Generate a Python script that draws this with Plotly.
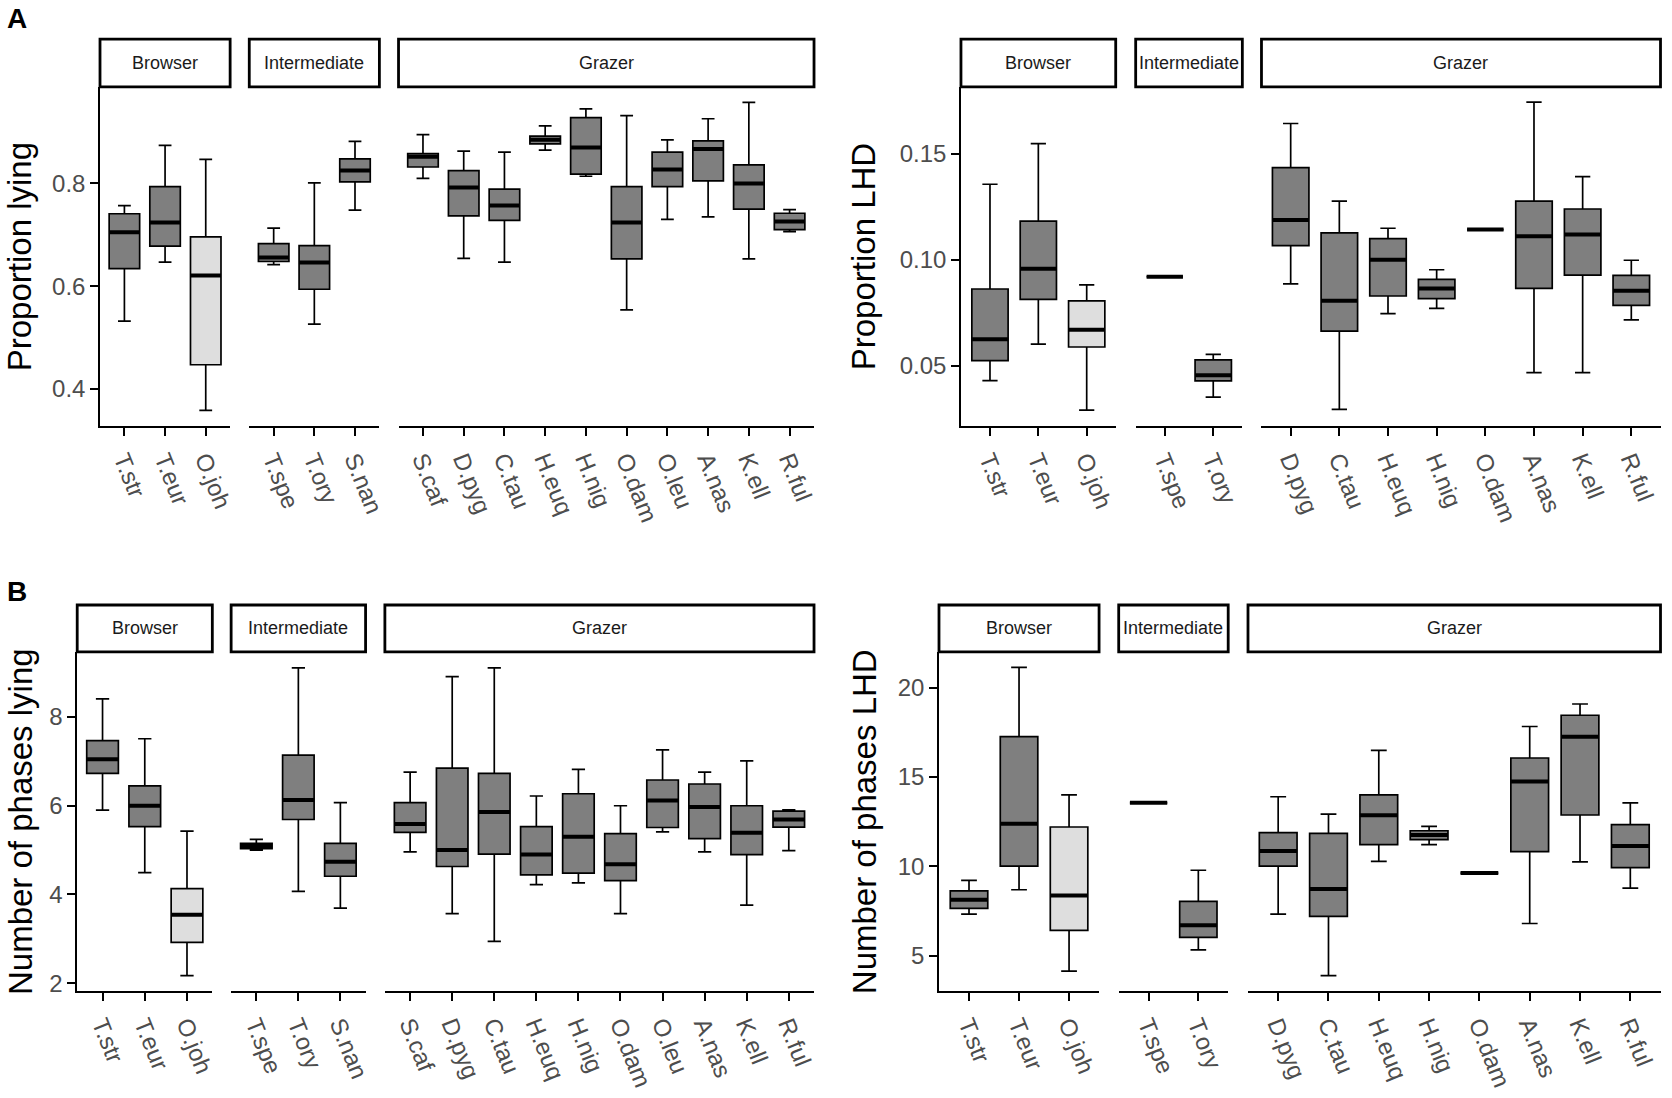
import plotly.graph_objects as go

# feeding groups and species, in plot order
groups = ["Browser", "Intermediate", "Grazer"]
sp_lying = [["T.str", "T.eur", "O.joh"],
            ["T.spe", "T.ory", "S.nan"],
            ["S.caf", "D.pyg", "C.tau", "H.euq", "H.nig", "O.dam", "O.leu", "A.nas", "K.ell", "R.ful"]]
sp_lhd = [["T.str", "T.eur", "O.joh"],
          ["T.spe", "T.ory"],
          ["D.pyg", "C.tau", "H.euq", "H.nig", "O.dam", "A.nas", "K.ell", "R.ful"]]
light_species = ["O.joh"]

# box stats, one row per species: lower whisker, q1, median, q3, upper whisker
prop_lying = [
    [0.532, 0.634, 0.705, 0.741, 0.757],
    [0.647, 0.678, 0.724, 0.794, 0.874],
    [0.358, 0.447, 0.621, 0.696, 0.847],
    [0.642, 0.648, 0.656, 0.683, 0.713],
    [0.526, 0.594, 0.646, 0.679, 0.801],
    [0.748, 0.803, 0.825, 0.848, 0.882],
    [0.810, 0.832, 0.852, 0.858, 0.895],
    [0.654, 0.737, 0.792, 0.825, 0.863],
    [0.647, 0.728, 0.757, 0.789, 0.861],
    [0.865, 0.877, 0.885, 0.892, 0.912],
    [0.814, 0.818, 0.870, 0.928, 0.945],
    [0.554, 0.653, 0.724, 0.794, 0.932],
    [0.730, 0.794, 0.827, 0.861, 0.885],
    [0.735, 0.805, 0.867, 0.883, 0.926],
    [0.653, 0.750, 0.800, 0.836, 0.958],
    [0.706, 0.710, 0.726, 0.742, 0.749],
]
prop_lhd = [
    [0.0429, 0.0524, 0.0625, 0.0862, 0.1357],
    [0.0602, 0.0813, 0.0958, 0.1183, 0.1549],
    [0.0290, 0.0588, 0.0669, 0.0806, 0.0882],
    [0.0920, 0.0920, 0.0920, 0.0920, 0.0920],
    [0.0351, 0.0428, 0.0455, 0.0527, 0.0553],
    [0.0886, 0.1067, 0.1188, 0.1436, 0.1644],
    [0.0293, 0.0663, 0.0806, 0.1127, 0.1277],
    [0.0746, 0.0829, 0.1000, 0.1100, 0.1149],
    [0.0771, 0.0817, 0.0864, 0.0908, 0.0953],
    [0.1143, 0.1143, 0.1143, 0.1143, 0.1143],
    [0.0467, 0.0865, 0.1111, 0.1277, 0.1745],
    [0.0467, 0.0928, 0.1119, 0.1240, 0.1393],
    [0.0716, 0.0785, 0.0854, 0.0926, 0.0998],
]
phases_lying = [
    [5.90, 6.73, 7.05, 7.47, 8.41],
    [4.49, 5.53, 6.00, 6.45, 7.51],
    [2.17, 2.92, 3.54, 4.13, 5.43],
    [5.00, 5.03, 5.09, 5.15, 5.24],
    [4.07, 5.69, 6.13, 7.14, 9.11],
    [3.69, 4.41, 4.74, 5.15, 6.07],
    [4.96, 5.40, 5.59, 6.07, 6.76],
    [3.57, 4.63, 5.00, 6.85, 8.91],
    [2.94, 4.91, 5.86, 6.73, 9.11],
    [4.22, 4.44, 4.90, 5.53, 6.22],
    [4.26, 4.48, 5.30, 6.27, 6.82],
    [3.57, 4.31, 4.68, 5.37, 6.00],
    [5.41, 5.51, 6.12, 6.58, 7.26],
    [4.96, 5.26, 5.97, 6.49, 6.76],
    [3.76, 4.90, 5.39, 6.00, 7.01],
    [4.99, 5.52, 5.69, 5.88, 5.91],
]
phases_lhd = [
    [7.33, 7.65, 8.13, 8.63, 9.21],
    [8.69, 10.01, 12.38, 17.25, 21.13],
    [4.14, 6.42, 8.37, 12.20, 14.00],
    [13.55, 13.55, 13.55, 13.55, 13.55],
    [5.33, 6.03, 6.70, 8.04, 9.78],
    [7.33, 10.01, 10.86, 11.88, 13.89],
    [3.88, 7.20, 8.73, 11.84, 12.92],
    [10.28, 11.21, 12.85, 14.00, 16.49],
    [11.21, 11.49, 11.75, 11.99, 12.23],
    [9.62, 9.62, 9.62, 9.62, 9.62],
    [6.80, 10.82, 14.74, 16.06, 17.82],
    [10.25, 12.87, 17.25, 18.45, 19.08],
    [8.78, 9.93, 11.14, 12.33, 13.55],
]

# layout of the four panels (paper coords)
panels = [
    dict(species=sp_lying, stats=prop_lying, title="Proportion lying",
         yrange=[0.327, 0.988], yticks=[0.4, 0.6, 0.8], fmt=".1f",
         xdom=[[0.0601, 0.1383], [0.1498, 0.2280], [0.2395, 0.4892]],
         ydom=[0.6099, 0.9205], strip=[0.9205, 0.9642], title_x=0.0118),
    dict(species=sp_lhd, stats=prop_lhd, title="Proportion LHD",
         yrange=[0.0213, 0.1817], yticks=[0.05, 0.10, 0.15], fmt=".2f",
         xdom=[[0.5775, 0.6705], [0.6825, 0.7466], [0.7581, 0.9979]],
         ydom=[0.6099, 0.9205], strip=[0.9205, 0.9642], title_x=0.5190),
    dict(species=sp_lying, stats=phases_lying, title="Number of phases lying",
         yrange=[1.813, 9.467], yticks=[2, 4, 6, 8], fmt="d",
         xdom=[[0.0464, 0.1276], [0.1389, 0.2197], [0.2313, 0.4892]],
         ydom=[0.0929, 0.4035], strip=[0.4035, 0.4465], title_x=0.0122),
    dict(species=sp_lhd, stats=phases_lhd, title="Number of phases LHD",
         yrange=[3.0, 21.99], yticks=[5, 10, 15, 20], fmt="d",
         xdom=[[0.5643, 0.6605], [0.6723, 0.7381], [0.7500, 0.9979]],
         ydom=[0.0929, 0.4035], strip=[0.4035, 0.4465], title_x=0.5195),
]

BOX_W = 0.75
DARK = "#7f7f7f"
LIGHT = "#dedede"
TICK_FONT = dict(family="Liberation Sans, Arial", size=24, color="#4d4d4d")

fig = go.Figure()
layout = {}
shapes = []
annotations = []

for p, pan in enumerate(panels):
    ykey = "y" if p == 0 else f"y{p + 1}"
    row = 0
    for f, names in enumerate(pan["species"]):
        k = p * 3 + f + 1
        xkey = "x" if k == 1 else f"x{k}"
        for i, name in enumerate(names):
            lo, q1, med, q3, hi = pan["stats"][row]
            row += 1
            fig.add_trace(go.Box(
                x=[i], q1=[q1], median=[med], q3=[q3],
                lowerfence=[lo], upperfence=[hi],
                width=BOX_W, whiskerwidth=0.42, boxpoints=False,
                fillcolor=LIGHT if name in light_species else DARK,
                line=dict(color="black", width=1.7),
                name=name, showlegend=False,
                xaxis=xkey, yaxis=ykey,
            ))
            # thick median bar like ggplot
            fig.add_trace(go.Scatter(
                x=[i - BOX_W / 2, i + BOX_W / 2], y=[med, med], mode="lines",
                line=dict(color="black", width=4), hoverinfo="skip",
                showlegend=False, xaxis=xkey, yaxis=ykey,
            ))
        layout["xaxis" if k == 1 else f"xaxis{k}"] = dict(
            domain=pan["xdom"][f], anchor=ykey,
            range=[-0.6, len(names) - 0.4],
            tickmode="array", tickvals=list(range(len(names))), ticktext=names,
            tickangle=68, tickfont=TICK_FONT,
            showline=True, linecolor="black", linewidth=1.6,
            ticks="outside", ticklen=8, tickwidth=1.6, tickcolor="black",
            showgrid=False, zeroline=False, fixedrange=True,
        )
        # facet strip
        x0, x1 = pan["xdom"][f]
        shapes.append(dict(type="rect", xref="paper", yref="paper",
                           x0=x0, x1=x1, y0=pan["strip"][0], y1=pan["strip"][1],
                           line=dict(color="black", width=2.8), fillcolor="white"))
        annotations.append(dict(text=groups[f], xref="paper", yref="paper",
                                x=(x0 + x1) / 2, y=(pan["strip"][0] + pan["strip"][1]) / 2,
                                showarrow=False, xanchor="center", yanchor="middle",
                                font=dict(family="Liberation Sans, Arial", size=18, color="#1a1a1a")))
    layout["yaxis" if p == 0 else f"yaxis{p + 1}"] = dict(
        domain=pan["ydom"], anchor="x" if p == 0 else f"x{p * 3 + 1}",
        range=pan["yrange"], tickmode="array", tickvals=pan["yticks"],
        tickformat=pan["fmt"], tickfont=TICK_FONT,
        showline=True, linecolor="black", linewidth=1.6,
        ticks="outside", ticklen=8, tickwidth=1.6, tickcolor="black",
        showgrid=False, zeroline=False, fixedrange=True,
    )
    annotations.append(dict(text=pan["title"], xref="paper", yref="paper",
                            x=pan["title_x"], y=sum(pan["ydom"]) / 2,
                            textangle=-90, showarrow=False,
                            xanchor="center", yanchor="middle",
                            font=dict(family="Liberation Sans, Arial", size=33, color="black")))

# panel letters
letter_font = dict(family="Liberation Sans, Arial", size=28, color="black")
annotations.append(dict(text="<b>A</b>", xref="paper", yref="paper", x=0.003, y=0.999,
                        xanchor="left", yanchor="top", showarrow=False, font=letter_font))
annotations.append(dict(text="<b>B</b>", xref="paper", yref="paper", x=0.003, y=0.475,
                        xanchor="left", yanchor="top", showarrow=False, font=letter_font))

fig.update_layout(
    width=1672, height=1098,
    margin=dict(l=0, r=0, t=0, b=0),
    paper_bgcolor="white", plot_bgcolor="white",
    shapes=shapes, annotations=annotations,
    showlegend=False,
    **layout,
)

fig.write_html("out.html", config={"displayModeBar": False},
               post_script="document.body.style.margin='0';")
